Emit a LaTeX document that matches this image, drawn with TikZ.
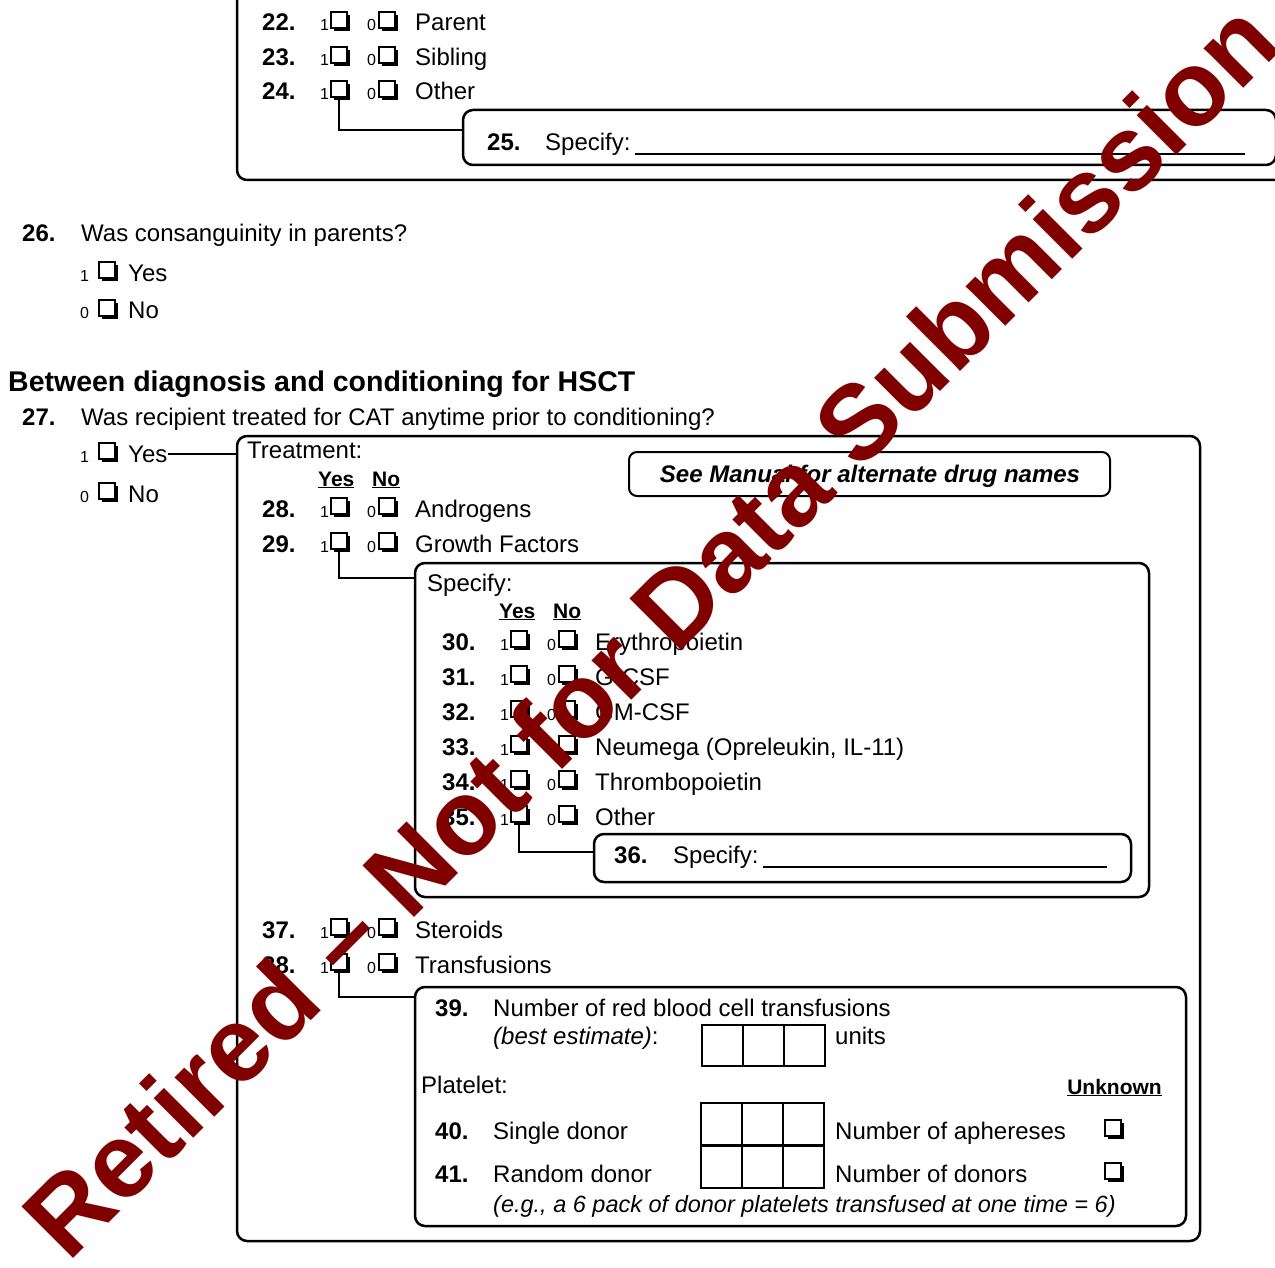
\documentclass[tikz,border=0pt]{standalone}
\usepackage{fontspec}
\setmainfont{Liberation Sans}
\usetikzlibrary{fit,shadows}
\definecolor{wmred}{HTML}{800000}
\newcommand\formsize{\fontsize{24}{28}\selectfont}

\tikzset{
  panel/.style = {draw, line width=2.5pt, rounded corners=10pt, inner sep=0pt, outer sep=0pt},
  link/.style = {line width=2pt},
  txt/.style = {anchor=base west, inner sep=0pt},
  num/.style = {txt, font=\formsize\bfseries},
  dig/.style = {txt, font=\fontsize{16}{16}\selectfont},
  hdr/.style = {txt, font=\fontsize{21}{24}\selectfont\bfseries},
  cbox/.style = {draw, fill=white, line width=1.4pt, minimum size=16pt, inner sep=0pt,
    outer sep=0pt, anchor=south west,
    drop shadow={shadow xshift=3pt, shadow yshift=-3pt, opacity=1, fill=black}},
  cell/.style = {draw, line width=2pt, minimum width=41pt, minimum height=41pt,
    anchor=north west, inner sep=0pt}
}

\begin{document}
\begin{tikzpicture}[x=1pt, y=-1pt, font=\formsize]
    \useasboundingbox (0,0) rectangle (1275,1268);

    % other family members
    \node [panel, fit={(237,-20) (1295,180)}] (oth) {};
    \node [panel, fit={(463,110) (1276,165)}] (sp25) {};
    \node [num] (q25) at (487,151) {25.};
    \node [txt] (s25) at (545,151) {Specify:};
    \draw [line width=1.2pt] (635,154) -- (1245,154);

    % question 26
    \node [num] (q26) at (22,242) {26.};
    \node [txt] (t26) at (81,242) {Was consanguinity in parents?};
    \node [dig] (oy26) at (80,281) {1};
    \node [cbox] (cy26) at (99,278) {};
    \node [txt] (yes26) at (128,281) {Yes};
    \node [dig] (on26) at (80,319) {0};
    \node [cbox] (cn26) at (99,316) {};
    \node [txt] (no26) at (128,319) {No};

    \node [txt, font=\fontsize{28.5}{32}\selectfont\bfseries] (head) at (8,391)
        {Between diagnosis and conditioning for HSCT};

    % question 27
    \node [num] (q27) at (22,425) {27.};
    \node [txt] (t27) at (81,425) {Was recipient treated for CAT anytime prior to conditioning?};
    \node [dig] (oy27) at (80,462) {1};
    \node [cbox] (cy27) at (99,459) {};
    \node [txt] (yes27) at (128,462) {Yes};
    \node [dig] (on27) at (80,502) {0};
    \node [cbox] (cn27) at (99,499) {};
    \node [txt] (no27) at (128,502) {No};

    % treatment box
    \node [panel, fit={(237,436) (1200,1241)}] (trt) {};
    \node [txt] (treat) at (247,458) {Treatment:};
    \node [hdr] (hy1) at (318,486) {\underline{Yes}};
    \node [hdr] (hn1) at (372,486) {\underline{No}};
    \node [panel, line width=2pt, rounded corners=8pt, fit={(629,452) (1110,496)}] (manual) {};
    \node [anchor=base, inner sep=0pt, font=\formsize\bfseries\itshape] (mtext) at (870,482)
        {See Manual for alternate drug names};

    % growth factors box
    \node [panel, fit={(415,563) (1149,897)}] (gf) {};
    \node [txt] (spgf) at (427,591) {Specify:};
    \node [hdr] (hy2) at (499,618) {\underline{Yes}};
    \node [hdr] (hn2) at (553,618) {\underline{No}};
    \node [panel, fit={(594,834) (1131,882)}] (sp36) {};
    \node [num] (q36) at (614,863) {36.};
    \node [txt] (s36) at (673,863) {Specify:};
    \draw [line width=1.2pt] (763,867) -- (1107,867);

    % yes / no rows
    \foreach \qx/\qn/\yb/\lab in {262/22/31/Parent, 262/23/66/Sibling, 262/24/100/Other,
        262/28/517/Androgens, 262/29/552/Growth Factors,
        442/30/650/Erythropoietin, 442/31/685/G-CSF, 442/32/720/GM-CSF,
        442/33/755/{Neumega (Opreleukin, IL-11)}, 442/34/790/Thrombopoietin, 442/35/825/Other,
        262/37/938/Steroids, 262/38/973/Transfusions} {
        \node [num] (q\qn) at (\qx,\yb) {\qn.};
        \node [dig] (oy\qn) at (\qx+58,\yb) {1};
        \node [cbox] (cy\qn) at (\qx+69,\yb-3) {};
        \node [dig] (on\qn) at (\qx+105,\yb) {0};
        \node [cbox] (cn\qn) at (\qx+117,\yb-3) {};
        \node [txt] (lab\qn) at (\qx+153,\yb) {\lab};
    }

    % transfusions box
    \node [panel, fit={(415,987) (1186,1226)}] (tf) {};
    \node [num] (q39) at (435,1016) {39.};
    \node [txt] (t39) at (493,1016) {Number of red blood cell transfusions};
    \node [txt] (best) at (493,1044) {{\itshape (best estimate)}:};
    \foreach \i in {0,1,2}
        \node [cell] (rbc\i) at (701+41*\i,1024) {};
    \node [txt] (units) at (835,1044) {units};
    \node [txt] (plt) at (421,1093) {Platelet:};
    \node [hdr, anchor=base east] (unk) at (1162,1094) {\underline{Unknown}};

    \node [num] (q40) at (435,1139) {40.};
    \node [txt] (t40) at (493,1139) {Single donor};
    \foreach \i in {0,1,2}
        \node [cell, minimum height=42pt] (sd\i) at (700+41*\i,1102) {};
    \node [txt] (aph) at (835,1139) {Number of aphereses};
    \node [cbox] (cu40) at (1105,1136) {};

    \node [num] (q41) at (435,1182) {41.};
    \node [txt] (t41) at (493,1182) {Random donor};
    \foreach \i in {0,1,2}
        \node [cell, minimum height=42pt] (rd\i) at (700+41*\i,1145) {};
    \node [txt] (don) at (835,1182) {Number of donors};
    \node [cbox] (cu41) at (1105,1179) {};
    \node [txt, font=\fontsize{23.5}{28}\selectfont\itshape] (eg) at (493,1212)
        {(e.g., a 6 pack of donor platelets transfused at one time = 6)};

    % connections
    \draw [link] (cy24.south) |- ([yshift=-20pt]sp25.north west);
    \draw [line width=1.5pt] (yes27.east) -- (yes27.east -| trt.west);
    \draw [link] (cy29.south) |- ([yshift=-15pt]gf.north west);
    \draw [link] (cy35.south) |- ([yshift=-18pt]sp36.north west);
    \draw [link] (cy38.south) |- ([yshift=-10pt]tf.north west);

    % watermark
    \node [anchor=base west, rotate=45, inner sep=0pt, text=wmred,
        font=\fontsize{106}{106}\selectfont\bfseries] (wm) at (68,1264)
        {Retired – Not for Data Submission};
\end{tikzpicture}
\end{document}
